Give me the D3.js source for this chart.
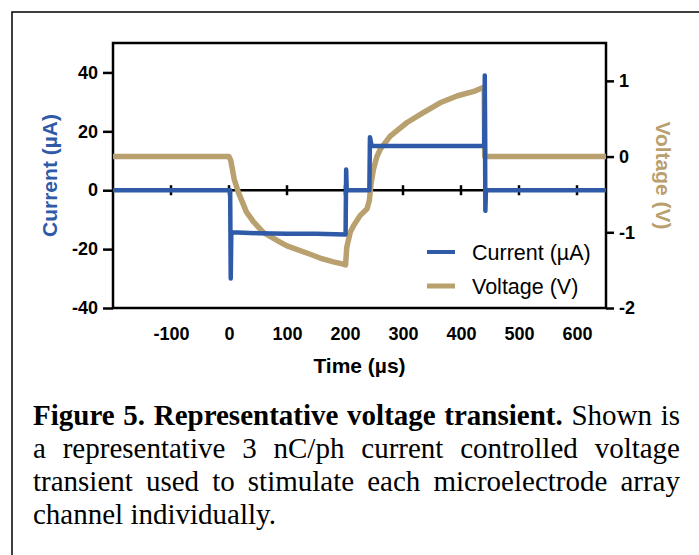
<!DOCTYPE html>
<html>
<head>
<meta charset="utf-8">
<script src="https://cdn.jsdelivr.net/npm/d3@7"></script>
<style>
  body { margin: 0; background: #fff; }
  #wrap { position: relative; width: 699px; height: 555px; overflow: hidden; }
  #caption { position: absolute; left: 33px; top: 399px; width: 647px;
    font-family: "Liberation Serif", "Times New Roman", serif; font-size: 29px; line-height: 33px; color: #000; }
  #caption div { text-align: justify; text-align-last: justify; white-space: nowrap; }
  #caption div.last { text-align-last: left; }
</style>
</head>
<body>
<div id="wrap">
  <div id="chart"></div>
  <div id="caption">
    <div><b>Figure 5. Representative voltage transient.</b> Shown is</div>
    <div>a representative 3 nC/ph current controlled voltage</div>
    <div>transient used to stimulate each microelectrode array</div>
    <div class="last">channel individually.</div>
  </div>
</div>
<script>
// current trace (µA)
var currentTime  = [-200, 2, 3, 4, 50, 100, 150, 200, 201, 202, 203, 242, 243, 246, 300, 350, 400, 440, 441, 442, 443, 650];
var currentValue = [0, 0, -30, -14.3, -14.6, -14.8, -14.8, -15, -15, 7, 0, 0, 18, 15, 15, 15, 15, 15, 39, -7, 0, 0];

// voltage trace (V)
var voltageTime  = [-200, 0, 3, 9, 16, 30, 42, 59, 88, 100, 140, 157, 180, 197, 201, 203, 209, 215, 226, 238, 242, 245, 249, 255, 261, 278, 307, 335, 364, 393, 422, 437, 440, 441, 650];
var voltageValue = [0, 0, -0.05, -0.3, -0.47, -0.73, -0.86, -1.0, -1.13, -1.18, -1.29, -1.34, -1.39, -1.42, -1.43, -1.2, -1.0, -0.91, -0.78, -0.69, -0.58, -0.35, -0.17, 0, 0.1, 0.27, 0.45, 0.58, 0.71, 0.8, 0.86, 0.91, 0.9, 0, 0];

var xTicks = [-100, 0, 100, 200, 300, 400, 500, 600];
var currentTicks = [-40, -20, 0, 20, 40];
var voltageTicks = [-2, -1, 0, 1];
var legendLabels = ["Current (µA)", "Voltage (V)"];

var width = 699, height = 555;
var plotLeft = 113, plotRight = 606, plotTop = 43, plotBottom = 308;
var blue = "#2e5aa8", tan = "#b9a06f";
var sans = "'Liberation Sans', Arial, sans-serif";
var plain = function(d) { return String(d); }; // keep hyphen minus like the original

var svg = d3.select("#chart").append("svg")
    .attr("width", width)
    .attr("height", height)
    .style("position", "absolute").style("left", 0).style("top", 0);

// outer figure border (only top and left visible)
svg.append("rect")
    .attr("x", 12).attr("y", 12)
    .attr("width", 800).attr("height", 700)
    .attr("fill", "none").attr("stroke", "#000").attr("stroke-width", 1.5);

var x = d3.scaleLinear().domain([-200, 650]).range([plotLeft, plotRight]);
var yC = d3.scaleLinear().domain([-40, 50]).range([plotBottom, plotTop]);
var yV = d3.scaleLinear().domain([-2, 1.5]).range([plotBottom, plotTop]);

// left axis
var leftAxis = svg.append("g")
    .attr("transform", "translate(" + plotLeft + ",0)")
    .call(d3.axisLeft(yC).tickValues(currentTicks).tickFormat(plain).tickSize(10).tickPadding(5).tickSizeOuter(0));
// right axis
var rightAxis = svg.append("g")
    .attr("transform", "translate(" + plotRight + ",0)")
    .call(d3.axisRight(yV).tickValues(voltageTicks).tickFormat(plain).tickSize(8).tickPadding(5).tickSizeOuter(0));
// bottom tick labels (no ticks on the frame)
var bottomAxis = svg.append("g")
    .attr("transform", "translate(0," + plotBottom + ")")
    .call(d3.axisBottom(x).tickValues(xTicks).tickFormat(plain).tickSize(0).tickPadding(19).tickSizeOuter(0));

[leftAxis, rightAxis, bottomAxis].forEach(function(g) {
  g.selectAll("text")
    .style("font-family", sans).style("font-size", "18px").style("font-weight", "bold").attr("fill", "#000");
  g.selectAll("line").attr("stroke", "#000").attr("stroke-width", 2.5);
  g.select(".domain").remove();
});

// plot frame
svg.append("rect")
    .attr("x", plotLeft).attr("y", plotTop)
    .attr("width", plotRight - plotLeft).attr("height", plotBottom - plotTop)
    .attr("fill", "none").attr("stroke", "#000").attr("stroke-width", 2.5);

// zero line with crossing ticks
svg.append("line")
    .attr("x1", plotLeft).attr("x2", plotRight)
    .attr("y1", yC(0)).attr("y2", yC(0))
    .attr("stroke", "#000").attr("stroke-width", 2.5);
svg.selectAll(".zeroTick").data(xTicks)
  .enter().append("line")
    .attr("class", "zeroTick")
    .attr("x1", function(d) { return x(d); }).attr("x2", function(d) { return x(d); })
    .attr("y1", yC(0) - 5).attr("y2", yC(0) + 5)
    .attr("stroke", "#000").attr("stroke-width", 2.5);

var voltageLine = d3.line()
    .x(function(d, i) { return x(voltageTime[i]); })
    .y(function(d) { return yV(d); });
var currentLine = d3.line()
    .x(function(d, i) { return x(currentTime[i]); })
    .y(function(d) { return yC(d); });

svg.append("path")
    .attr("d", voltageLine(voltageValue))
    .attr("fill", "none").attr("stroke", tan).attr("stroke-width", 5.5)
    .attr("stroke-linejoin", "round");
svg.append("path")
    .attr("d", currentLine(currentValue))
    .attr("fill", "none").attr("stroke", blue).attr("stroke-width", 4.5)
    .attr("stroke-linejoin", "round");

// axis titles
svg.append("text")
    .attr("transform", "translate(50," + ((plotTop + plotBottom) / 2) + ") rotate(-90)")
    .attr("text-anchor", "middle").attr("dy", ".35em")
    .style("font-family", sans).style("font-size", "21px").style("font-weight", "bold")
    .attr("fill", blue)
    .text("Current (µA)");
svg.append("text")
    .attr("transform", "translate(663," + ((plotTop + plotBottom) / 2) + ") rotate(90)")
    .attr("text-anchor", "middle").attr("dy", ".35em")
    .style("font-family", sans).style("font-size", "21px").style("font-weight", "bold")
    .attr("fill", tan)
    .text("Voltage (V)");
svg.append("text")
    .attr("x", (plotLeft + plotRight) / 2).attr("y", 373)
    .attr("text-anchor", "middle")
    .style("font-family", sans).style("font-size", "21px").style("font-weight", "bold")
    .text("Time (µs)");

// legend
var legendColors = [blue, tan];
var legend = svg.selectAll(".legend").data(legendLabels)
  .enter().append("g")
    .attr("class", "legend")
    .attr("transform", function(d, i) { return "translate(427," + (252 + i * 34) + ")"; });
legend.append("line")
    .attr("x1", 0).attr("x2", 28)
    .attr("stroke", function(d, i) { return legendColors[i]; })
    .attr("stroke-width", function(d, i) { return i === 0 ? 4 : 5; });
legend.append("text")
    .attr("x", 45).attr("dy", ".35em")
    .style("font-family", sans).style("font-size", "21.5px")
    .text(function(d) { return d; });
</script>
</body>
</html>
